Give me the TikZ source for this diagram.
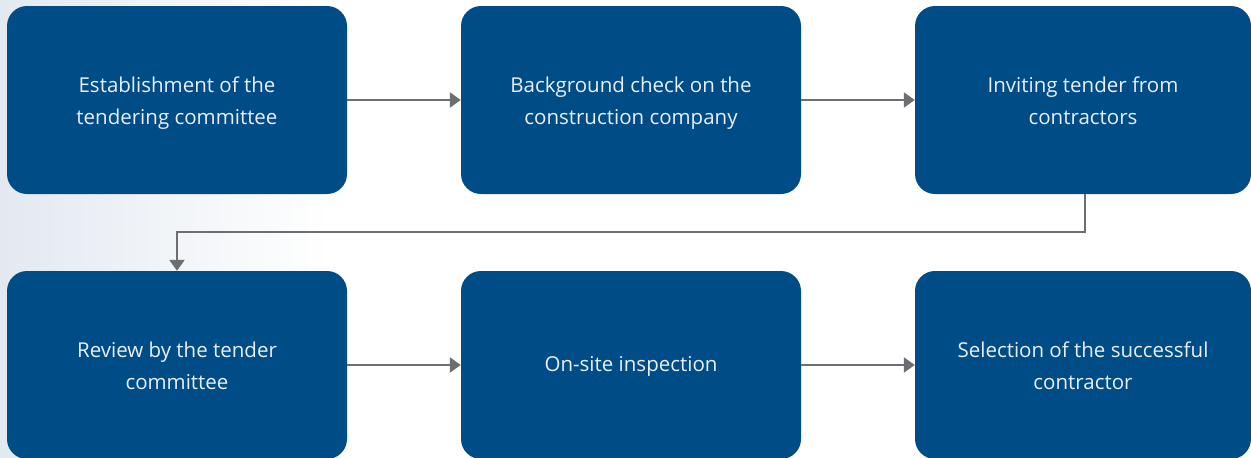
\documentclass[tikz,border=0pt]{standalone}
\usepackage{fontspec}
\setmainfont{Open Sans}
\usetikzlibrary{arrows.meta}
\definecolor{boxblue}{HTML}{004C87}
\definecolor{linegray}{HTML}{6D6E71}
\definecolor{txt}{HTML}{E8EFF7}
\definecolor{shade}{HTML}{E3E9F1}
\newcommand\upstrut{\rule{0pt}{22pt}}
\newcommand\lowstrut{\rule{0pt}{17pt}}
\tikzset{
  x=1pt,y=-1pt,
  stepbox/.style={fill=boxblue, rounded corners=20pt, minimum width=340pt, minimum height=188pt,
    inner sep=0pt, align=center, text=txt, font=\fontsize{20.5}{32}\selectfont},
  conn/.style={draw=linegray, line width=2.2pt, -{Triangle[length=11pt,width=15pt]}}
}
\begin{document}
\begin{tikzpicture}
\fill[white] (0,0) rectangle (1251,458);
\shade[left color=shade, right color=white] (0,0) rectangle (330,458);
\useasboundingbox (0,0) rectangle (1251,458);
\node[stepbox] (a) at (177,100) {\upstrut Establishment of the\\tendering committee};
\node[stepbox] (b) at (631,100) {\upstrut Background check on the\\construction company};
\node[stepbox, minimum width=336pt] (c) at (1083,100) {\lowstrut Inviting tender from\\contractors};
\node[stepbox] (d) at (177,365) {\lowstrut Review by the tender\\committee};
\node[stepbox] (e) at (631,365) {\lowstrut On-site inspection};
\node[stepbox, minimum width=336pt] (f) at (1083,365) {\lowstrut Selection of the successful\\contractor};
\draw[conn] (a.east) -- (b.west);
\draw[conn] (b.east) -- (c.west);
\draw[conn] (d.east) -- (e.west);
\draw[conn] (e.east) -- (f.west);
\coordinate (k1) at (1085,232);
\coordinate (k2) at (177,232);
\draw[conn] (1085,194) -- (k1) -- (k2) -- (d.north);
\end{tikzpicture}
\end{document}
